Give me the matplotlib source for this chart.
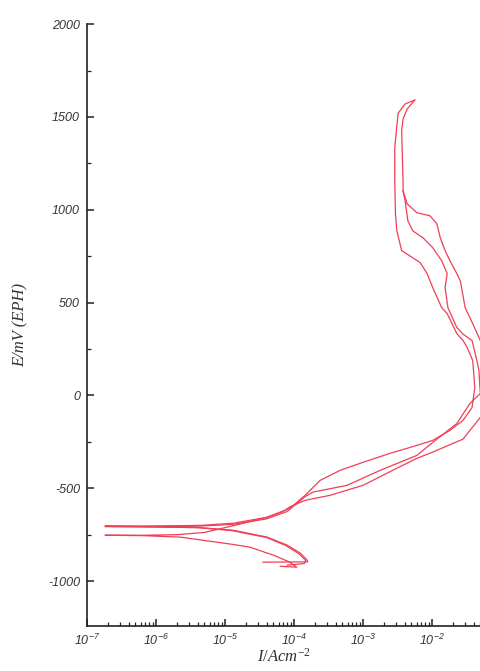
import numpy as np
import matplotlib
matplotlib.use("Agg")
import matplotlib.pyplot as plt
from matplotlib.ticker import LogLocator, FixedLocator, NullFormatter

plt.rcParams['axes.unicode_minus'] = False
plt.rcParams['mathtext.fontset'] = 'custom'
plt.rcParams['mathtext.rm'] = 'Liberation Serif'
plt.rcParams['mathtext.it'] = 'Liberation Serif:italic'
plt.rcParams['mathtext.sf'] = 'Liberation Sans:italic'

# log10 of current density (A/cm2) and potential (mV)
# forward scan 1 (Ecorr ~ -704 mV), outer right branch
logI_a = [-4.45, -3.80, -3.81, -3.91, -4.10, -4.39, -4.88, -5.36, -6.09, -6.74,
          -6.09, -5.36, -4.88, -4.39, -4.16, -4.06, -3.84, -3.48, -3.00, -2.51,
          -2.22, -1.99, -1.55, -1.30, -1.22, -1.22, -1.30, -1.41, -1.52, -1.59,
          -1.64, -1.74, -1.81, -1.88, -1.93, -2.03, -2.22, -2.36, -2.42, -2.42,
          -2.44, -2.42, -2.36, -2.25]
E_a = [-898, -896, -887, -849, -806, -763, -726, -712, -707, -704,
       -703, -700, -688, -656, -625, -600, -565, -538, -484, -392,
       -339, -305, -235, -118, -30, 200, 296, 387, 473, 618,
       656, 726, 780, 849, 925, 968, 984, 1032, 1102, 1156,
       1425, 1489, 1543, 1591]

# reverse scan (Ecorr ~ -753 mV)
logI_b = [-2.25, -2.39, -2.49, -2.51, -2.54, -2.54, -2.53, -2.51, -2.44, -2.28,
          -2.17, -2.07, -2.03, -1.99, -1.86, -1.78, -1.64, -1.55, -1.49, -1.41,
          -1.38, -1.42, -1.55, -1.74, -1.99, -2.22, -2.61, -3.00, -3.33, -3.62,
          -3.84, -4.06, -4.39, -4.75, -5.00, -5.30, -5.70, -6.20, -6.74, -6.20,
          -5.65, -4.93, -4.64, -4.39, -4.30, -4.06, -3.96, -4.20]
E_b = [1591, 1570, 1521, 1452, 1333, 1156, 978, 887, 780, 742,
       715, 656, 618, 581, 473, 441, 333, 296, 258, 188,
       43, -65, -134, -188, -242, -269, -312, -360, -403, -457,
       -538, -608, -656, -690, -712, -738, -750, -753, -753, -755,
       -763, -800, -817, -849, -860, -898, -925, -920]

# forward scan 2 (Ecorr ~ -706 mV), middle branch
logI_c = [-4.10, -3.85, -3.83, -3.93, -4.12, -4.40, -4.90, -5.40, -6.10, -6.74,
          -6.10, -5.40, -4.90, -4.40, -4.10, -3.84, -3.73, -3.23, -2.75, -2.22,
          -1.99, -1.64, -1.45, -1.30, -1.32, -1.35, -1.42, -1.55, -1.64, -1.77,
          -1.81, -1.78, -1.86, -1.99, -2.13, -2.28, -2.35, -2.39, -2.42]
E_c = [-914, -905, -890, -852, -808, -765, -728, -712, -708, -706,
       -706, -704, -695, -665, -625, -545, -521, -484, -403, -323,
       -253, -151, -43, 11, 134, 188, 296, 330, 366, 473,
       581, 656, 726, 796, 849, 887, 941, 1048, 1102]

curves = [(logI_a, E_a), (logI_b, E_b), (logI_c, E_c)]

fig = plt.figure(figsize=(4.81, 6.71), dpi=100)
ax = fig.add_axes([0.181, 0.067, 0.819, 0.897])

for lg, e in curves:
    ax.plot(10 ** np.array(lg), e, color='#f03e56', lw=0.9)

ax.set_xscale('log')
ax.set_xlim(1e-7, 10 ** -1.29)
ax.set_ylim(-1242, 2000)

for s in ['top', 'right']:
    ax.spines[s].set_visible(False)
for s in ['left', 'bottom']:
    ax.spines[s].set_linewidth(1.2)
    ax.spines[s].set_color('#222222')

yt = [-1000, -500, 0, 500, 1000, 1500, 2000]
ax.yaxis.set_major_locator(FixedLocator(yt))
ax.yaxis.set_minor_locator(FixedLocator([-750, -250, 250, 750, 1250, 1750]))
ax.set_yticklabels([str(v) for v in yt], fontstyle='italic',
                   family='Liberation Sans', fontsize=9, color='#333333')

xt = [1e-7, 1e-6, 1e-5, 1e-4, 1e-3, 1e-2]
ax.xaxis.set_major_locator(FixedLocator(xt))
ax.xaxis.set_minor_locator(LogLocator(base=10, subs=np.arange(2, 10)))
ax.xaxis.set_minor_formatter(NullFormatter())
ax.set_xticklabels([r'$\mathsf{10^{%d}}$' % p for p in range(-7, -1)],
                   fontsize=9, color='#333333')

ax.tick_params(axis='both', which='major', direction='in', length=5, width=1.1,
               color='#222222', pad=5)
ax.tick_params(axis='both', which='minor', direction='in', length=3, width=0.9,
               color='#222222')

ax.set_xlabel(r'$I/Acm^{-2}$', fontsize=12, labelpad=0, color='#333333')
ax.set_ylabel('E/mV (EPH)', family='Liberation Serif', fontstyle='italic',
              fontsize=12, labelpad=14, color='#333333')

fig.savefig('out.png', dpi=100)
